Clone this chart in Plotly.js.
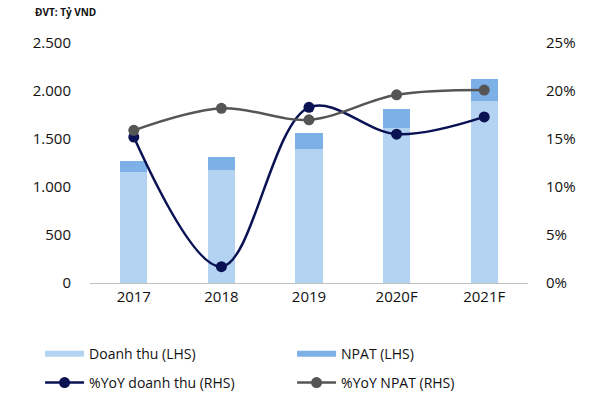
<!DOCTYPE html>
<html>
<head>
<meta charset="utf-8">
<script src="https://cdn.plot.ly/plotly-3.0.1.min.js"></script>
<style>html,body{margin:0;padding:0;background:#fff;}#chart{width:600px;height:400px;}</style>
</head>
<body>
<div id="chart"></div>
<script>
const years = ["2017", "2018", "2019", "2020F", "2021F"];
const doanhThu = [1160, 1177, 1396, 1615, 1896];
const npat = [114, 139, 163, 194, 232];
const yoyDoanhThu = [15.2, 1.7, 18.3, 15.5, 17.3];
const yoyNpat = [15.9, 18.2, 17.0, 19.6, 20.1];
const leftTicks = [0, 500, 1000, 1500, 2000, 2500];
const rightTicks = [0, 5, 10, 15, 20, 25];
const rightTickText = rightTicks.map(v => v + "%");

const cLight = "#B4D3F2", cDark = "#7EB0E8", cNavy = "#0A1254", cGray = "#555555";
const tickFont = {family: "Open Sans, DejaVu Sans, sans-serif", size: 15, color: "#111"};
const legFont = {family: "Open Sans, sans-serif", size: 14, color: "#111"};

const traces = [
  {type: "bar", x: years, y: doanhThu, name: "Doanh thu (LHS)", marker: {color: cLight}, showlegend: false, hoverinfo: "skip"},
  {type: "bar", x: years, y: npat, name: "NPAT (LHS)", marker: {color: cDark}, showlegend: false, hoverinfo: "skip"},
  {type: "scatter", mode: "lines", x: [null], y: [null], name: "Doanh thu (LHS)", line: {color: cLight, width: 6}, legend: "legend"},
  {type: "scatter", mode: "lines", x: [null], y: [null], name: "NPAT (LHS)", line: {color: cDark, width: 6}, legend: "legend"},
  {type: "scatter", mode: "lines+markers", x: years, y: yoyDoanhThu, yaxis: "y2", name: "%YoY doanh thu (RHS)", legend: "legend2",
   line: {color: cNavy, width: 2.5, shape: "spline", smoothing: 1}, marker: {color: cNavy, size: 11}},
  {type: "scatter", mode: "lines+markers", x: years, y: yoyNpat, yaxis: "y2", name: "%YoY NPAT (RHS)", legend: "legend2",
   line: {color: cGray, width: 2.5, shape: "spline", smoothing: 1}, marker: {color: cGray, size: 11}}
];

const legendBase = {orientation: "h", xref: "paper", yref: "paper", x: -0.114, xanchor: "left", yanchor: "middle",
                    entrywidth: 198, itemwidth: 39, font: legFont, traceorder: "normal", bgcolor: "rgba(0,0,0,0)"};

const layout = {
  width: 600, height: 400,
  margin: {l: 90, r: 72, t: 43, b: 117, autoexpand: false},
  paper_bgcolor: "#fff", plot_bgcolor: "#fff",
  separators: ",.",
  barmode: "stack",
  bargap: 0.69,
  font: tickFont,
  showlegend: true,
  xaxis: {type: "category", showgrid: false, showline: true, linecolor: "#BFBFBF", linewidth: 1, ticks: "", tickfont: tickFont, zeroline: false},
  yaxis: {range: [0, 2500], tickvals: leftTicks, tickformat: ",d", showgrid: false, zeroline: false, showline: false, ticks: "", ticklabelstandoff: 18, tickfont: tickFont},
  yaxis2: {range: [0, 25], tickvals: rightTicks, ticktext: rightTickText, overlaying: "y", side: "right", showgrid: false, zeroline: false, showline: false, ticks: "", ticklabelstandoff: 17, tickfont: tickFont},
  legend: Object.assign({}, legendBase, {y: -0.296}),
  legend2: Object.assign({}, legendBase, {y: -0.4167}),
  annotations: [{xref: "paper", yref: "paper", x: -0.130, y: 1.129, xanchor: "left", yanchor: "middle",
                 text: "<b>ĐVT: Tỷ VND</b>", showarrow: false, font: {family: "Open Sans, sans-serif", size: 10, color: "#111"}}]
};

Plotly.newPlot("chart", traces, layout, {displayModeBar: false, staticPlot: true});
</script>
</body>
</html>
